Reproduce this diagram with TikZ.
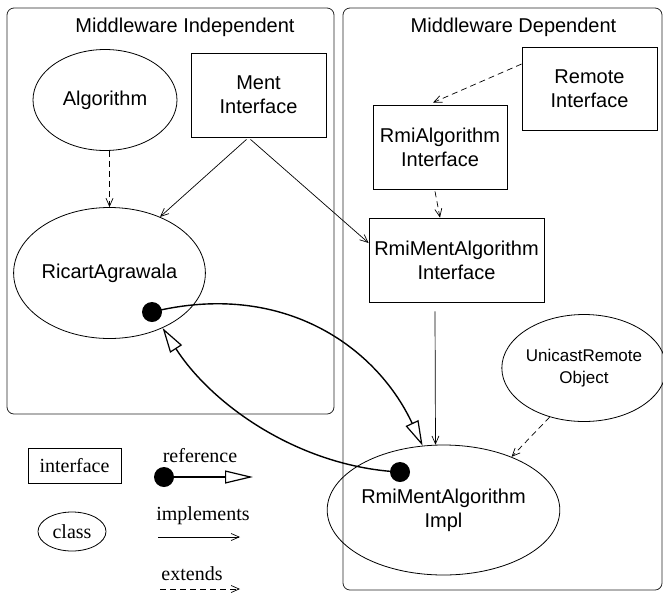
\documentclass[tikz,border=0pt]{standalone}
\usepackage{fontspec}
\setmainfont{Liberation Serif}
\newfontfamily\diagfont{Liberation Sans}
\usetikzlibrary{arrows.meta,shapes.geometric}

\begin{document}
\begin{tikzpicture}[x=1pt,y=-1pt,
  frame/.style={draw=black!85, line width=0.8pt, rounded corners=7pt},
  lbl/.style={font=\diagfont\fontsize{20}{24}\selectfont, align=center},
  iface/.style={lbl, draw, line width=0.8pt, rectangle, inner sep=0pt},
  cls/.style={lbl, draw, line width=0.8pt, ellipse, inner sep=0pt},
  legendtext/.style={font=\fontsize{20}{24}\selectfont},
  implarrow/.style={line width=0.7pt, -{Straight Barb[length=8pt,width=7pt,line width=0.7pt]}},
  extarrow/.style={implarrow, dash pattern=on 6pt off 4pt},
  refarrow/.style={line width=1.4pt, -{Triangle[open,length=25pt,width=14pt,line width=1.2pt]}},
  dot/.style={circle, fill=black, inner sep=0pt, minimum size=20pt},
]
\useasboundingbox (0,0) rectangle (663,592);
\clip (0,0) rectangle (663,592);

% package frames
\draw[frame] (7,8) rectangle (334,414);
\draw[frame] (343,8) rectangle (662,590);
\node[lbl] (titleL) at (185,27) {Middleware Independent};
\node[lbl] (titleR) at (513.5,27) {Middleware Dependent};

% middleware independent part
\node[cls, minimum width=144pt, minimum height=101pt] (Algorithm) at (105,100) {Algorithm};
\node[iface, minimum width=135pt, minimum height=84pt] (Ment) at (258.5,95) {Ment\\Interface};
\node[cls, minimum width=185pt, minimum height=131pt] (Ricart) at (109.5,273) {RicartAgrawala};

% middleware dependent part
\node[iface, minimum width=135pt, minimum height=83pt] (Remote) at (589.5,88.5) {Remote\\Interface};
\node[iface, minimum width=134pt, minimum height=84pt] (RmiAlg) at (440,147) {RmiAlgorithm\\Interface};
\node[iface, minimum width=175pt, minimum height=84pt] (RmiMent) at (456.5,260) {RmiMentAlgorithm\\Interface};
\node[cls, minimum width=149pt, minimum height=107pt, font=\diagfont\fontsize{17}{22}\selectfont] (Unicast) at (584,368) {UnicastRemote\\Object};
\node[cls, minimum width=185pt, minimum height=130pt] (Impl) at (443.5,510) {RmiMentAlgorithm\\Impl};

% inheritance and realisation
\draw[extarrow] (Algorithm.south -| Ricart.north) -- (Ricart.north);
\draw[implarrow] ([xshift=-12pt,yshift=-2pt]Ment.south) -- (Ricart.48);
\draw[implarrow] ([xshift=-8pt,yshift=-2pt]Ment.south) -- ([yshift=17pt]RmiMent.west);
\draw[extarrow] ([yshift=24.5pt]Remote.west) -- ([xshift=-7pt,yshift=2pt]RmiAlg.north);
\draw[extarrow] ([xshift=-5pt,yshift=-2pt]RmiAlg.south) -- (RmiAlg.south |- RmiMent.north);
\draw[implarrow] ([xshift=-21.5pt,yshift=-9pt]RmiMent.south) -- (Impl.97);
\draw[extarrow] (Unicast.235) -- (Impl.38);

% references between the two classes
\node[dot] (refA) at (152,312) {};
\node[dot] (refB) at (400,472) {};
\draw[refarrow] (refA.center) .. controls (282,280) and (376,346) .. (Impl.108);
\draw[refarrow] (refB.center) .. controls (300,467) and (212.6,405.6) .. (Ricart.-46);

% legend
\node[iface, legendtext, minimum width=93pt, minimum height=35pt] (lgIface) at (74.5,465.5) {interface};
\node[cls, legendtext, minimum width=68pt, minimum height=39pt] (lgClass) at (72,531.5) {class};
\node[legendtext, anchor=base] (lgRef) at (200,462) {reference};
\node[legendtext, anchor=base] (lgImpl) at (203,520) {implements};
\node[legendtext, anchor=base] (lgExt) at (192,580) {extends};
\node[dot] (lgDot) at (164,477) {};
\coordinate (lgRefEnd) at (253,477);
\coordinate (lgImplA) at (158,537);
\coordinate (lgImplB) at (240,537);
\coordinate (lgExtA) at (160,589);
\coordinate (lgExtB) at (240,589);
\draw[refarrow, -{Triangle[open,length=28pt,width=13pt,line width=1.2pt]}] (lgDot.center) -- (lgRefEnd);
\draw[implarrow] (lgImplA) -- (lgImplB);
\draw[extarrow] (lgExtA) -- (lgExtB);
\end{tikzpicture}
\end{document}
